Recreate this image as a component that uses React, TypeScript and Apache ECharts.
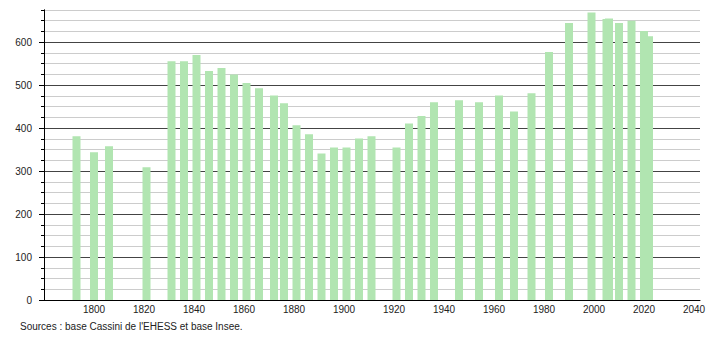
import React, { useEffect, useRef } from "react";
import * as echarts from "echarts";

const years = [
  1793, 1800, 1806, 1821, 1831, 1836, 1841, 1846, 1851, 1856, 1861, 1866, 1872, 1876,
  1881, 1886, 1891, 1896, 1901, 1906, 1911, 1921, 1926, 1931, 1936, 1946, 1954, 1962,
  1968, 1975, 1982, 1990, 1999, 2005, 2006, 2010, 2015, 2020, 2022,
];
const population = [
  381, 344, 358, 309, 556, 556, 570, 533, 540, 525, 505, 493, 476, 458,
  407, 386, 341, 355, 355, 376, 381, 355, 411, 428, 460, 465, 460, 476,
  439, 481, 577, 645, 669, 654, 655, 645, 650, 626, 614,
];
const yMajorTicks = [0, 100, 200, 300, 400, 500, 600];
const xTickLabels = [1800, 1820, 1840, 1860, 1880, 1900, 1920, 1940, 1960, 1980, 2000, 2020, 2040];
const sourceText = "Sources : base Cassini de l'EHESS et base Insee.";

const FONT = '"Liberation Sans", Arial, sans-serif';

export default function App() {
  const ref = useRef<HTMLDivElement>(null);
  useEffect(() => {
    document.body.style.margin = "0";
    if (!ref.current) return;
    const chart = echarts.init(ref.current, undefined, { renderer: "svg" });
    chart.setOption({
      animation: false,
      backgroundColor: "#ffffff",
      grid: { left: 44, right: 10, top: 10, bottom: 40 },
      xAxis: {
        type: "value",
        min: 1780,
        max: 2042.4,
        interval: 20,
        axisLine: { show: true, lineStyle: { color: "#000", width: 1 } },
        axisTick: { show: false },
        splitLine: { show: false },
        axisLabel: {
          color: "#222",
          fontSize: 10,
          fontFamily: FONT,
          margin: 4,
          showMinLabel: false,
          formatter: (v: number) => (xTickLabels.includes(v) ? String(v) : ""),
        },
      },
      yAxis: [
        {
          type: "value",
          position: "left",
          min: 0,
          max: 675,
          interval: 25,
          axisLine: { show: true, lineStyle: { color: "#000", width: 1 } },
          axisTick: { show: true, length: 3, lineStyle: { color: "#000" } },
          axisLabel: { show: false },
          splitLine: {
            show: true,
            lineStyle: { color: ["#444", "#cccccc", "#cccccc", "#cccccc"], width: 1 },
          },
        },
        {
          type: "value",
          position: "left",
          offset: 0,
          min: 0,
          max: 675,
          interval: 100,
          axisLine: { show: true, lineStyle: { color: "#000", width: 1 } },
          axisTick: { show: true, length: 5, lineStyle: { color: "#000" }, customValues: yMajorTicks },
          axisLabel: {
            color: "#222",
            fontSize: 10,
            fontFamily: FONT,
            margin: 12,
            customValues: yMajorTicks,
            formatter: (v: number) => (yMajorTicks.includes(v) ? String(v) : ""),
          },
          splitLine: { show: false },
        },
      ],
      series: [
        {
          type: "bar",
          yAxisIndex: 0,
          barWidth: 8,
          itemStyle: { color: "#b1e5b1" },
          data: years.map((y, i) => [y, population[i]]),
        },
      ],
      graphic: [
        {
          type: "text",
          left: 20,
          top: 321,
          style: { text: sourceText, fill: "#222", font: `10px ${FONT}` },
        },
      ],
    });
    return () => chart.dispose();
  }, []);
  return <div ref={ref} style={{ width: 710, height: 340 }} />;
}
